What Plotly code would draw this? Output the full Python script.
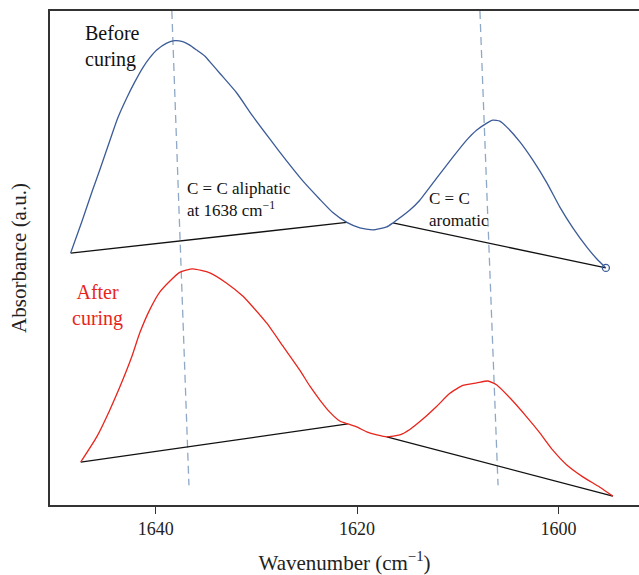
import plotly.graph_objects as go

# Before curing spectrum (wavenumber cm-1, absorbance a.u.)
before_wn = [1648.45, 1647.35, 1646.26, 1645.56, 1644.57, 1643.78, 1642.88, 1642.09, 1641.29, 1640.60,
             1639.90, 1638.91, 1638.11, 1637.32, 1636.62, 1635.93, 1635.13, 1634.44, 1633.64, 1631.95,
             1630.36, 1628.67, 1626.98, 1625.39, 1623.71, 1622.41, 1621.02, 1619.73, 1618.44, 1617.05,
             1616.45, 1614.76, 1613.77, 1612.08, 1610.49, 1609.10, 1608.11, 1607.11, 1606.52, 1605.82,
             1605.13, 1603.83, 1602.54, 1601.15, 1599.86, 1598.57, 1597.18, 1596.18, 1595.29]
before_abs = [0.510, 0.573, 0.638, 0.678, 0.737, 0.783, 0.824, 0.856, 0.885, 0.905,
              0.921, 0.935, 0.940, 0.938, 0.931, 0.921, 0.909, 0.893, 0.874, 0.834,
              0.787, 0.741, 0.696, 0.656, 0.619, 0.592, 0.572, 0.561, 0.557, 0.563,
              0.571, 0.597, 0.617, 0.662, 0.704, 0.739, 0.759, 0.773, 0.779, 0.777,
              0.765, 0.735, 0.698, 0.652, 0.603, 0.561, 0.522, 0.498, 0.480]
before_base_wn = [1648.45, 1621.02, None, 1616.45, 1595.29]
before_base_abs = [0.510, 0.572, None, 0.571, 0.480]

# After curing spectrum
after_wn = [1647.45, 1645.86, 1644.57, 1643.28, 1642.38, 1641.59, 1640.60, 1639.60, 1638.61, 1637.62,
            1636.32, 1634.63, 1632.95, 1631.36, 1630.66, 1628.97, 1627.38, 1625.69, 1624.70, 1623.71,
            1622.71, 1621.72, 1620.92, 1620.03, 1619.04, 1618.04, 1617.05, 1615.76, 1614.76, 1613.47,
            1612.08, 1610.79, 1609.50, 1608.11, 1607.01, 1606.12, 1604.83, 1603.14, 1601.85, 1600.56,
            1599.17, 1597.58, 1595.89, 1594.60]
after_abs = [0.087, 0.138, 0.192, 0.253, 0.300, 0.348, 0.395, 0.431, 0.453, 0.471,
             0.478, 0.470, 0.449, 0.423, 0.408, 0.368, 0.322, 0.273, 0.241, 0.213,
             0.188, 0.170, 0.164, 0.158, 0.148, 0.142, 0.138, 0.142, 0.153, 0.174,
             0.200, 0.226, 0.242, 0.247, 0.251, 0.243, 0.217, 0.178, 0.146, 0.111,
             0.081, 0.057, 0.036, 0.018]
after_base_wn = [1647.45, 1620.92, None, 1617.05, 1594.60]
after_base_abs = [0.087, 0.164, None, 0.138, 0.018]

# Peak guide lines (slanted dashed)
guide1_wn = [1638.4, 1636.7]
guide2_wn = [1607.8, 1606.0]
guide_abs = [1.0, 0.040]

x_ticks = [1640, 1620, 1600]

FONT = "Liberation Serif"
BLUE = "#3b5b98"
RED = "#e8251c"
GUIDE = "#8ea8c6"

fig = go.Figure()
fig.add_trace(go.Scatter(x=guide1_wn, y=guide_abs, mode="lines",
                         line=dict(color=GUIDE, width=1.3, dash="8px,5px"), showlegend=False))
fig.add_trace(go.Scatter(x=guide2_wn, y=guide_abs, mode="lines",
                         line=dict(color=GUIDE, width=1.3, dash="8px,5px"), showlegend=False))
fig.add_trace(go.Scatter(x=before_base_wn, y=before_base_abs, mode="lines",
                         line=dict(color="#111111", width=1.3), showlegend=False))
fig.add_trace(go.Scatter(x=after_base_wn, y=after_base_abs, mode="lines",
                         line=dict(color="#111111", width=1.3), showlegend=False))
fig.add_trace(go.Scatter(x=before_wn, y=before_abs, mode="lines",
                         line=dict(color=BLUE, width=1.3, shape="spline", smoothing=0.5),
                         showlegend=False))
fig.add_trace(go.Scatter(x=[before_wn[-1]], y=[before_abs[-1]], mode="markers",
                         marker=dict(symbol="circle-open", size=7, color=BLUE,
                                     line=dict(width=1.3, color=BLUE)),
                         showlegend=False))
fig.add_trace(go.Scatter(x=after_wn, y=after_abs, mode="lines",
                         line=dict(color=RED, width=1.3, shape="spline", smoothing=0.5),
                         showlegend=False))

fig.add_annotation(x=1647.25, y=0.929, xref="x", yref="y", text="Before<br>curing",
                   showarrow=False, xanchor="left", yanchor="middle", align="left",
                   font=dict(family=FONT, size=20, color="#111111"))
fig.add_annotation(x=1645.8, y=0.403, xref="x", yref="y", text="After<br>curing",
                   showarrow=False, xanchor="center", yanchor="middle", align="center",
                   font=dict(family=FONT, size=20, color=RED))
fig.add_annotation(x=1637.1, y=0.619, xref="x", yref="y",
                   text="C = C aliphatic<br>at 1638 cm<sup>−1</sup>",
                   showarrow=False, xanchor="left", yanchor="middle", align="left",
                   font=dict(family=FONT, size=17, color="#111111"))
fig.add_annotation(x=1613.1, y=0.599, xref="x", yref="y", text="C = C<br>aromatic",
                   showarrow=False, xanchor="left", yanchor="middle", align="left",
                   font=dict(family=FONT, size=17, color="#111111"))

fig.update_layout(
    width=639, height=575,
    margin=dict(l=50, r=0, t=11, b=70),
    plot_bgcolor="white", paper_bgcolor="white",
    font=dict(family=FONT, color="#222222"),
    xaxis=dict(range=[1650.5, 1592], tickvals=x_ticks, ticktext=[str(v) for v in x_ticks],
               ticks="outside", ticklen=7, tickwidth=1.3, tickcolor="#333333",
               showline=True, linecolor="#333333", linewidth=1.5, mirror=True,
               showgrid=False, zeroline=False,
               tickfont=dict(family=FONT, size=18, color="#222222"),
               title=dict(text="Wavenumber (cm<sup>−1</sup>)",
                          font=dict(family=FONT, size=21, color="#222222"), standoff=17)),
    yaxis=dict(range=[0, 1], showticklabels=False, ticks="",
               showline=True, linecolor="#333333", linewidth=1.5, mirror=False,
               showgrid=False, zeroline=False,
               title=dict(text="Absorbance (a.u.)",
                          font=dict(family=FONT, size=21, color="#222222"), standoff=16)),
)

fig.write_html("out.html")
